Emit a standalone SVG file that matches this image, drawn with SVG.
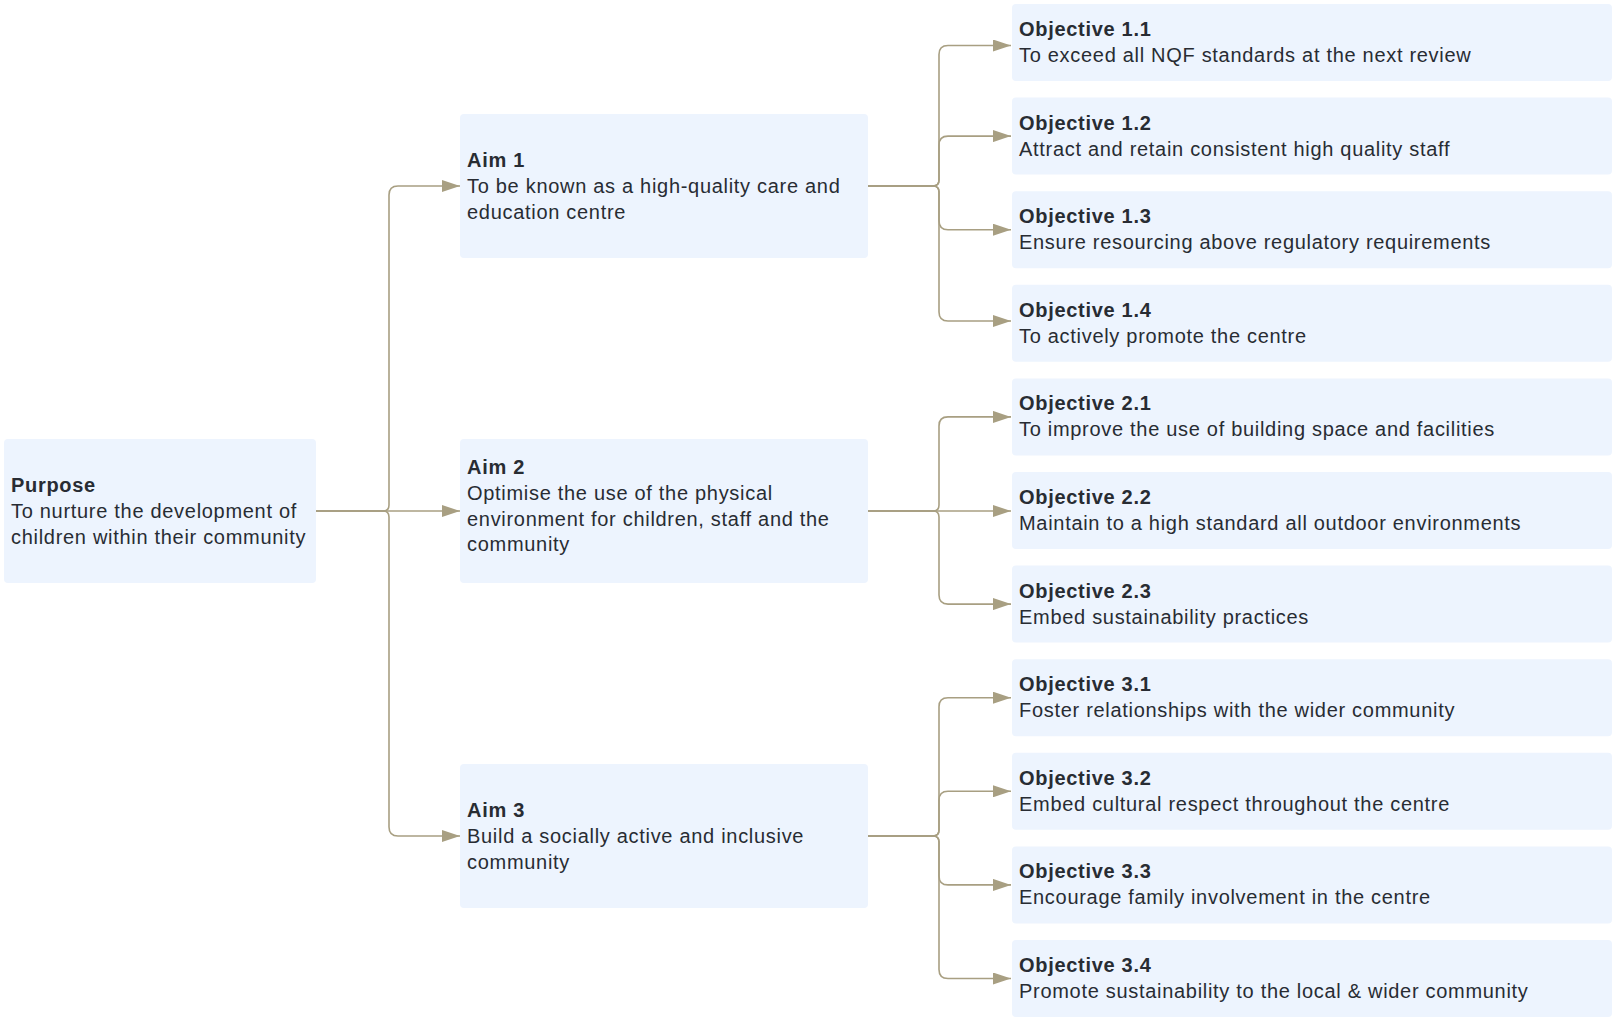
<svg xmlns="http://www.w3.org/2000/svg" width="1617" height="1017" viewBox="0 0 1617 1017">
<style>
.box{fill:#edf4fe;}
.t{font-family:"Liberation Sans",Arial,sans-serif;font-size:20px;letter-spacing:0.7px;fill:#282c33;}
.b{font-weight:bold;}
.c{fill:none;stroke:#a89f82;stroke-width:1.6;marker-end:url(#ah);}
</style>
<defs>
<marker id="ah" markerUnits="userSpaceOnUse" markerWidth="18" markerHeight="12" refX="18" refY="6" orient="auto">
<path d="M0,0 L18,6 L0,12 z" fill="#a89f82"/>
</marker>
</defs>
<rect width="1617" height="1017" fill="#ffffff"/>
<g id="connectors">
<path class="c" d="M316 511 H383 Q389 511 389 505 V195 Q389 186 398 186 H460"/>
<path class="c" d="M316 511 H460"/>
<path class="c" d="M316 511 H383 Q389 511 389 517 V827 Q389 836 398 836 H460"/>
<path class="c" d="M868 186 H933 Q939 186 939 180 V54.5 Q939 45.5 948 45.5 H1011"/>
<path class="c" d="M868 186 H933 Q939 186 939 180 V145.1 Q939 136.1 948 136.1 H1011"/>
<path class="c" d="M868 186 H933 Q939 186 939 192 V220.7 Q939 229.7 948 229.7 H1011"/>
<path class="c" d="M868 186 H933 Q939 186 939 192 V312 Q939 321 948 321 H1011"/>
<path class="c" d="M868 511 H933 Q939 511 939 505 V425.9 Q939 416.9 948 416.9 H1011"/>
<path class="c" d="M868 511 H1011"/>
<path class="c" d="M868 511 H933 Q939 511 939 517 V595.1 Q939 604.1 948 604.1 H1011"/>
<path class="c" d="M868 836 H933 Q939 836 939 830 V706.7 Q939 697.7 948 697.7 H1011"/>
<path class="c" d="M868 836 H933 Q939 836 939 830 V800.3 Q939 791.3 948 791.3 H1011"/>
<path class="c" d="M868 836 H933 Q939 836 939 842 V875.9 Q939 884.9 948 884.9 H1011"/>
<path class="c" d="M868 836 H933 Q939 836 939 842 V969.5 Q939 978.5 948 978.5 H1011"/>
</g>
<g id="purpose">
<rect class="box" x="4" y="439" width="312" height="144" rx="4"/>
<text class="t" x="11" y="492"><tspan class="b">Purpose</tspan><tspan x="11" y="518">To nurture the development of</tspan><tspan x="11" y="543.5">children within their community</tspan></text>
</g>
<g id="aim1">
<rect class="box" x="460" y="114" width="408" height="144" rx="4"/>
<text class="t" x="467" y="167"><tspan class="b">Aim 1</tspan><tspan x="467" y="193">To be known as a high-quality care and</tspan><tspan x="467" y="218.5">education centre</tspan></text>
</g>
<g id="aim2">
<rect class="box" x="460" y="439" width="408" height="144" rx="4"/>
<text class="t" x="467" y="474"><tspan class="b">Aim 2</tspan><tspan x="467" y="500">Optimise the use of the physical</tspan><tspan x="467" y="526">environment for children, staff and the</tspan><tspan x="467" y="551">community</tspan></text>
</g>
<g id="aim3">
<rect class="box" x="460" y="764" width="408" height="144" rx="4"/>
<text class="t" x="467" y="817"><tspan class="b">Aim 3</tspan><tspan x="467" y="843">Build a socially active and inclusive</tspan><tspan x="467" y="868.5">community</tspan></text>
</g>
<g id="obj11">
<rect class="box" x="1012" y="4" width="600" height="77" rx="4"/>
<text class="t" x="1019" y="36"><tspan class="b">Objective 1.1</tspan><tspan x="1019" y="62">To exceed all NQF standards at the next review</tspan></text>
</g>
<g id="obj12">
<rect class="box" x="1012" y="97.6" width="600" height="77" rx="4"/>
<text class="t" x="1019" y="129.6"><tspan class="b">Objective 1.2</tspan><tspan x="1019" y="155.6">Attract and retain consistent high quality staff</tspan></text>
</g>
<g id="obj13">
<rect class="box" x="1012" y="191.2" width="600" height="77" rx="4"/>
<text class="t" x="1019" y="223.2"><tspan class="b">Objective 1.3</tspan><tspan x="1019" y="249.2">Ensure resourcing above regulatory requirements</tspan></text>
</g>
<g id="obj14">
<rect class="box" x="1012" y="284.8" width="600" height="77" rx="4"/>
<text class="t" x="1019" y="316.8"><tspan class="b">Objective 1.4</tspan><tspan x="1019" y="342.8">To actively promote the centre</tspan></text>
</g>
<g id="obj21">
<rect class="box" x="1012" y="378.4" width="600" height="77" rx="4"/>
<text class="t" x="1019" y="410.4"><tspan class="b">Objective 2.1</tspan><tspan x="1019" y="436.4">To improve the use of building space and facilities</tspan></text>
</g>
<g id="obj22">
<rect class="box" x="1012" y="472" width="600" height="77" rx="4"/>
<text class="t" x="1019" y="504"><tspan class="b">Objective 2.2</tspan><tspan x="1019" y="530">Maintain to a high standard all outdoor environments</tspan></text>
</g>
<g id="obj23">
<rect class="box" x="1012" y="565.6" width="600" height="77" rx="4"/>
<text class="t" x="1019" y="597.6"><tspan class="b">Objective 2.3</tspan><tspan x="1019" y="623.6">Embed sustainability practices</tspan></text>
</g>
<g id="obj31">
<rect class="box" x="1012" y="659.2" width="600" height="77" rx="4"/>
<text class="t" x="1019" y="691.2"><tspan class="b">Objective 3.1</tspan><tspan x="1019" y="717.2">Foster relationships with the wider community</tspan></text>
</g>
<g id="obj32">
<rect class="box" x="1012" y="752.8" width="600" height="77" rx="4"/>
<text class="t" x="1019" y="784.8"><tspan class="b">Objective 3.2</tspan><tspan x="1019" y="810.8">Embed cultural respect throughout the centre</tspan></text>
</g>
<g id="obj33">
<rect class="box" x="1012" y="846.4" width="600" height="77" rx="4"/>
<text class="t" x="1019" y="878.4"><tspan class="b">Objective 3.3</tspan><tspan x="1019" y="904.4">Encourage family involvement in the centre</tspan></text>
</g>
<g id="obj34">
<rect class="box" x="1012" y="940" width="600" height="77" rx="4"/>
<text class="t" x="1019" y="972"><tspan class="b">Objective 3.4</tspan><tspan x="1019" y="998">Promote sustainability to the local &amp; wider community</tspan></text>
</g>
</svg>
